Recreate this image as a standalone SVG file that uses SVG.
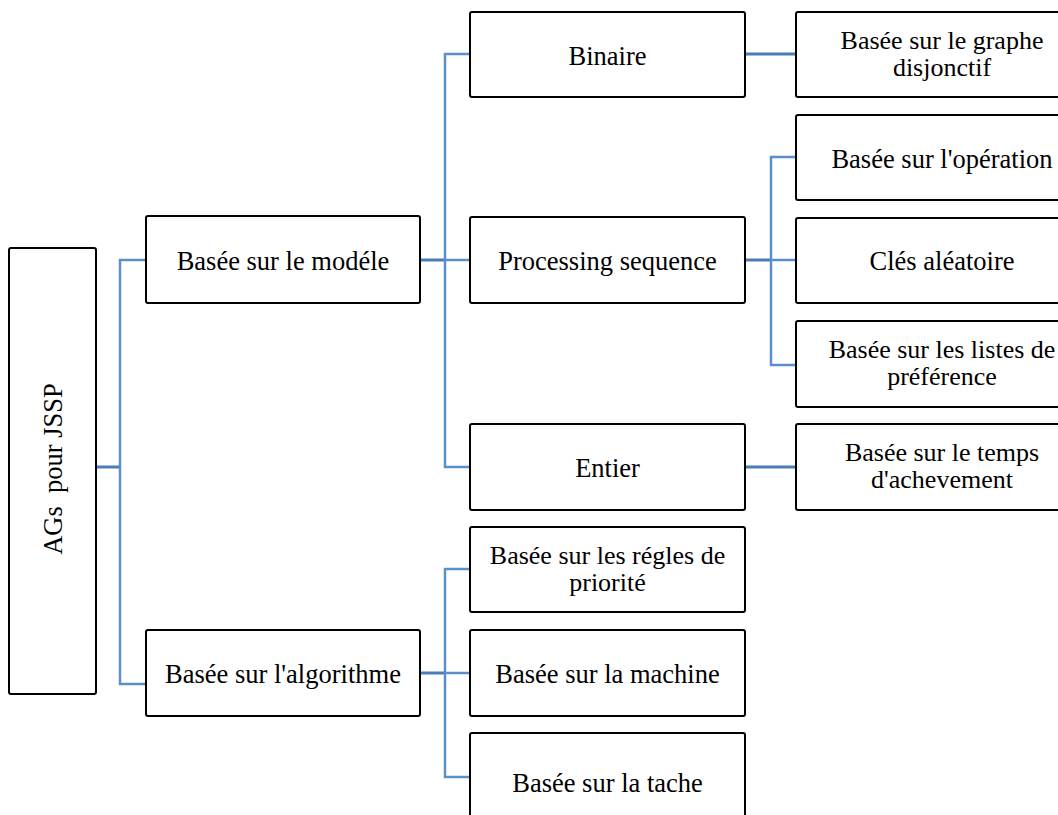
<svg xmlns="http://www.w3.org/2000/svg" width="1058" height="815" viewBox="0 0 1058 815">
<style>
.box{fill:#fff;stroke:#000;stroke-width:2}
.t{font-family:"Liberation Serif","Times New Roman",serif;font-size:26.5px;fill:#000;text-anchor:middle}
.t2{font-family:"Liberation Serif","Times New Roman",serif;font-size:26px;fill:#000;text-anchor:middle}
.stem{fill:none;stroke:#4a7db8;stroke-width:3}
.br{fill:none;stroke:#5b8fca;stroke-width:2.5}
</style>
<rect x="0" y="0" width="1058" height="815" fill="#fff"/>
<g id="connectors">
<path class="stem" d="M96 467H120"/>
<path class="br" d="M146 260H120V684H146"/>
<path class="stem" d="M420 260H445"/>
<path class="br" d="M470 54H445V467H470M445 260H470"/>
<path class="stem" d="M420 673H445"/>
<path class="br" d="M470 569H445V777H470M445 673H470"/>
<path class="stem" d="M745 54H796"/>
<path class="stem" d="M745 260H771"/>
<path class="br" d="M796 157H771V365H796M771 260H796"/>
<path class="stem" d="M745 467H796"/>
</g>
<g id="root"><rect class="box" x="9" y="248" width="87" height="446" rx="2"/><text class="t" xml:space="preserve" transform="translate(62,469) rotate(-90)">AGs  pour JSSP</text></g>
<g id="modele"><rect class="box" x="146" y="216" width="274" height="87" rx="2"/><text class="t" x="283" y="270">Basée sur le modéle</text></g>
<g id="algorithme"><rect class="box" x="146" y="630" width="274" height="86" rx="2"/><text class="t" x="283" y="683">Basée sur l'algorithme</text></g>
<g id="binaire"><rect class="box" x="470" y="12" width="275" height="85" rx="2"/><text class="t" x="607.5" y="65">Binaire</text></g>
<g id="processing"><rect class="box" x="470" y="217" width="275" height="86" rx="2"/><text class="t" x="607.5" y="270">Processing sequence</text></g>
<g id="entier"><rect class="box" x="470" y="424" width="275" height="86" rx="2"/><text class="t" x="607.5" y="477">Entier</text></g>
<g id="priorite"><rect class="box" x="470" y="527" width="275" height="85" rx="2"/><text class="t2" x="607.5" y="564">Basée sur les régles de</text><text class="t2" x="607.5" y="591">priorité</text></g>
<g id="machine"><rect class="box" x="470" y="630" width="275" height="86" rx="2"/><text class="t" x="607.5" y="683">Basée sur la machine</text></g>
<g id="tache"><rect class="box" x="470" y="733" width="275" height="100" rx="2"/><text class="t" x="607.5" y="792">Basée sur la tache</text></g>
<g id="graphe"><rect class="box" x="796" y="12" width="292" height="85" rx="2"/><text class="t2" x="942" y="49">Basée sur le graphe</text><text class="t2" x="942" y="76">disjonctif</text></g>
<g id="operation"><rect class="box" x="796" y="115" width="292" height="85" rx="2"/><text class="t" x="942" y="168">Basée sur l'opération</text></g>
<g id="cles"><rect class="box" x="796" y="218" width="292" height="85" rx="2"/><text class="t" x="942" y="270">Clés aléatoire</text></g>
<g id="listes"><rect class="box" x="796" y="321" width="292" height="86" rx="2"/><text class="t2" x="942" y="358">Basée sur les listes de</text><text class="t2" x="942" y="385">préférence</text></g>
<g id="temps"><rect class="box" x="796" y="424" width="292" height="86" rx="2"/><text class="t2" x="942" y="461">Basée sur le temps</text><text class="t2" x="942" y="488">d'achevement</text></g>
</svg>
